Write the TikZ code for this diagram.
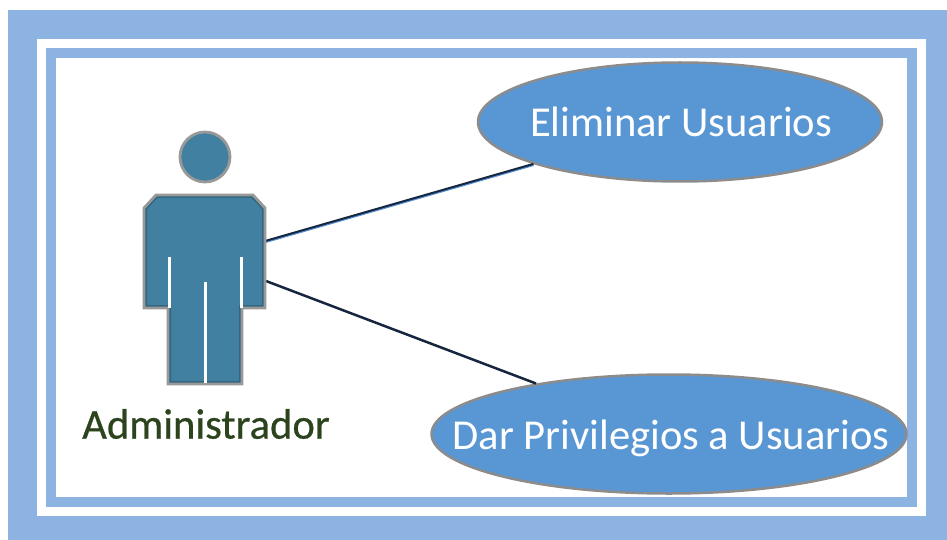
\documentclass[tikz,border=0pt]{standalone}
\usepackage{fontspec}
\setmainfont{Carlito}
\newfontfamily\namefont[FakeBold=0.6]{Carlito}
\usetikzlibrary{shapes}

\definecolor{framecolor}{RGB}{141,179,226}
\definecolor{casecolor}{RGB}{89,151,212}
\definecolor{actorcolor}{RGB}{65,128,160}
\definecolor{edgecolor}{RGB}{22,38,62}
\definecolor{glowcolor}{RGB}{84,141,212}
\definecolor{namecolor}{RGB}{44,68,30}

\newcommand{\bodyshape}{(156,195) -- (253,195) -- (265,208) -- (265,308) -- (242,308) -- (242,384)
	-- (168,384) -- (168,308) -- (144,308) -- (144,208) -- cycle}

\begin{document}
\begin{tikzpicture}[x=1pt,y=-1pt]
	 \tikzstyle{frame}=[fill=framecolor]
	 \tikzstyle{gap}=[fill=white]
	 \tikzstyle{rim}=[draw=black,line width=6pt,opacity=0.2]
	 \tikzstyle{use case}=[ellipse,draw=black!45,line width=2.5pt,fill=casecolor,text=white,inner sep=0pt,font=\fontsize{42.6}{42.6}\selectfont]
	 \tikzstyle{actor}=[draw=black!40,line width=2.8pt,fill=actorcolor,line join=miter]
	 \tikzstyle{slit}=[draw=white,line width=2.5pt]
	 \tikzstyle{edge}=[-,edgecolor,line width=2.5pt]
	 \tikzstyle{glow}=[-,glowcolor,line width=1pt]

	\useasboundingbox (0,0) rectangle (947,540);
	\fill[white] (0,0) rectangle (947,540);
	\path[frame] (8,10) rectangle (947,540);
	\path[gap] (37,39) rectangle (926,516);
	\path[frame] (46,48) rectangle (917,507);
	\path[gap] (56,58) rectangle (907,497);

	\node[use case,minimum width=404pt,minimum height=119pt,
		path picture={\draw[rim] (680,122) ellipse [x radius=202pt,y radius=59.5pt];}] (eliminar) at (680,122)
		{\raisebox{-15pt}[0pt][0pt]{\makebox[0pt]{\hspace{2pt}Eliminar Usuarios}}};
	\node[use case,minimum width=475pt,minimum height=119pt,
		path picture={\draw[rim] (669,434) ellipse [x radius=237.5pt,y radius=59.5pt];}] (privilegios) at (669,434)
		{\raisebox{-15pt}[0pt][0pt]{\makebox[0pt]{\hspace{4pt}Dar Privilegios a Usuarios}}};

	\coordinate (hand1) at (266,241);
	\coordinate (hand2) at (266,281);
	\draw[edge] (hand1) -- (eliminar) coordinate[pos=1] (foot1);
	\draw[edge] (hand2) -- (privilegios);
	\draw[glow] ([yshift=-1.4pt]hand1) -- ([yshift=-1.4pt]foot1);

	\node[actor,circle,minimum size=50pt,inner sep=0pt,
		path picture={\draw[rim] (205,157) circle [radius=25pt];}] (head) at (205,157) {};
	\draw[actor,path picture={\draw[rim] \bodyshape;}] \bodyshape;
	\draw[slit] (169.5,257) -- (169.5,308);
	\draw[slit] (241.5,257) -- (241.5,308);
	\draw[slit] (205.5,282) -- (205.5,383);

	\node[text=namecolor,font=\namefont\fontsize{42.6}{42.6}\selectfont] (name) at (206,424) {Administrador};
\end{tikzpicture}
\end{document}
